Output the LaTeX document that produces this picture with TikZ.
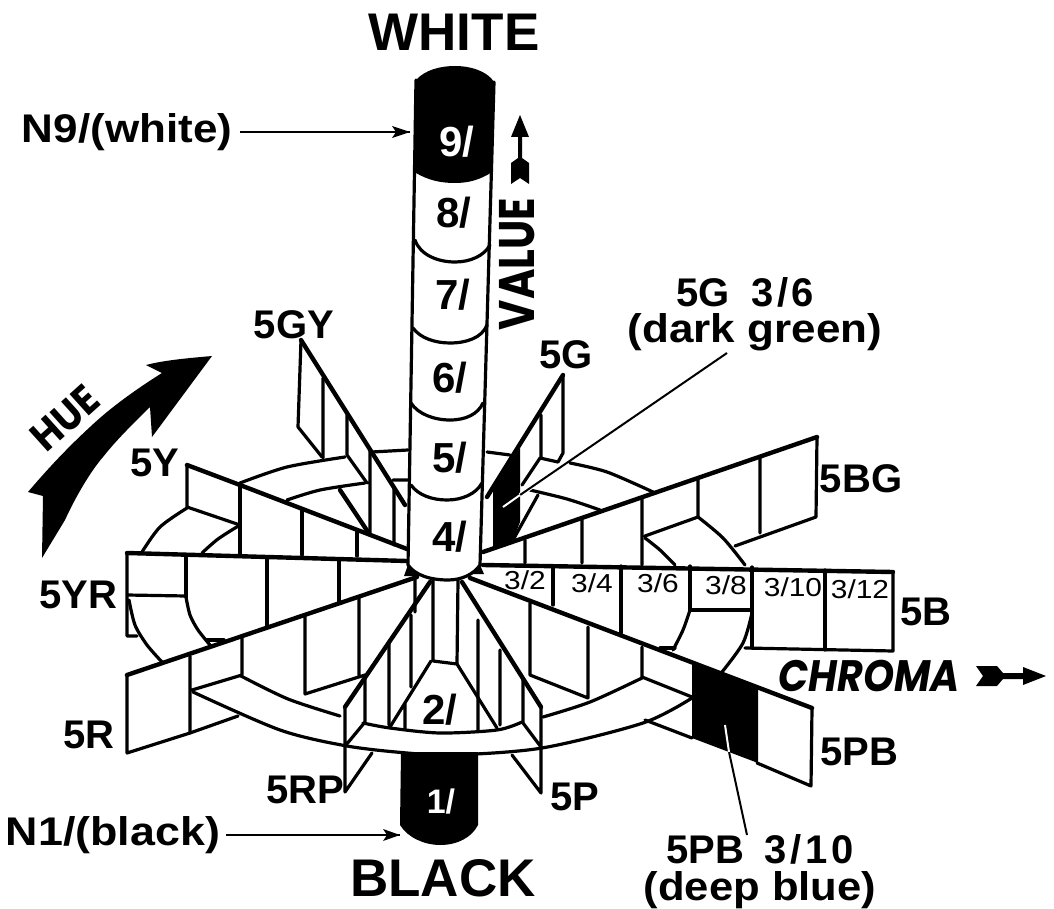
\documentclass[tikz,border=0pt]{standalone}
\usepackage{fontspec}
\setmainfont{Liberation Sans}
\newfontfamily\geo{Poppins}
\newcommand{\fs}[1]{\fontsize{#1}{#1}\selectfont}
\tikzset{
  ln/.style={line width=3.2pt,line cap=round,line join=round},
  hv/.style={line width=4.4pt,line cap=round,line join=round},
  leader/.style={line width=2pt},
  big/.style={font=\fs{53}\bfseries,inner sep=0pt},
  lab/.style={font=\fs{40}\bfseries,inner sep=0pt},
  cyl/.style={font=\fs{42}\bfseries,inner sep=0pt},
  cell/.style={font=\fs{26},inner sep=0pt,xscale=1.15},
}
\begin{document}
\begin{tikzpicture}[x=1pt,y=-1pt]
\useasboundingbox (0,0) rectangle (1054,909);
\fill[white] (0,0) rectangle (1054,909);
% ---- black chips behind lines
\fill (520,448) -- (493,490) -- (493,547) -- (513,540) -- (520,522) -- cycle;
\fill (692,662) -- (758,689) -- (758,763) -- (692,738) -- cycle;
% black column foot
\fill (401,752) -- (400,825) .. controls (408,838) and (425,845) .. (440,845) .. controls (458,845) and (472,837) .. (478,825) -- (478,752) -- cycle;
% ---- 5Y
\draw[hv] (187,465) -- (240,485) -- (407,549);
\draw[ln] (187,465) -- (187,507) -- (240,525);
\draw[ln] (240,484) -- (240,554) (302,510) -- (302,555) (357,532) -- (357,556);
% ---- 5YR
\draw[hv] (127,553) -- (407,561);
\draw[ln] (127,553) -- (127,636) -- (137,636) (127,595) -- (186,596);
\draw[ln] (186,555) -- (186,597) (267,557) -- (267,627) (339,560) -- (339,602) (207,640) -- (224,640);
% ---- 5R
\draw[hv] (127,675) -- (417,577);
\draw[ln] (127,675) -- (127,753) -- (190,733) -- (238,716);
\draw[ln] (190,656) -- (190,733) (242,638) -- (242,675) -- (192,690) (305,617) -- (305,694) -- (365,675) (359,598) -- (359,675) (415,578) -- (415,612);
% ---- ring, visible arcs
\draw[ln] plot[smooth] coordinates {(142,552) (160,527) (187,508)};
\draw[ln] plot[smooth] coordinates {(202,553) (218,539) (240,525)};
\draw[ln] plot[smooth] coordinates {(129,600) (135,625) (147,645) (162,662)};
\draw[ln] plot[smooth] coordinates {(186,597) (190,615) (198,630) (210,645)};
\draw[ln] plot[smooth] coordinates {(240,483) (287,467) (345,457)};
\draw[ln] plot[smooth] coordinates {(287,500) (320,490) (365,483)};
\draw[ln] (372,452) -- (408,450) (393,480) -- (410,480);
\draw[ln] (487,452) -- (510,455);
\draw[ln] plot[smooth] coordinates {(570,463) (607,472) (653,492)};
\draw[ln] plot[smooth] coordinates {(530,490) (567,499) (600,510)};
\draw[ln] plot[smooth] coordinates {(698,517) (723,538) (745,565)};
\draw[ln] plot[smooth] coordinates {(645,538) (660,550) (675,565)};
\draw[ln] plot[smooth] coordinates {(690,610) (683,630) (673,650)};
\draw[ln] plot[smooth] coordinates {(752,613) (743,643) (722,672)};
\draw[ln] plot[smooth] coordinates {(193,692) (280,730) (347,746) (407,753) (453,755) (542,748) (643,723) (692,698)};
\draw[ln] plot[smooth] coordinates {(241,676) (288,699) (340,716)};
\draw[ln] plot[smooth] coordinates {(363,723) (390,728) (440,733) (497,730) (522,722)};
\draw[ln] plot[smooth] coordinates {(543,717) (590,702) (642,678)};
% ---- 5GY
\draw[hv] (301,340) -- (405,505);
\draw[ln] (301,340) -- (298,427) -- (322,457);
\draw[ln] (323,378) -- (323,458) (347,415) -- (347,455) -- (367,483) (370,450) -- (370,533) (394,487) -- (394,545);
\draw[hv] (340,490) -- (368,532);
% ---- 5G
\draw[hv] (563,375) -- (487,497);
\draw[ln] (563,375) -- (563,453) -- (558,462) -- (540,458) -- (522,485) (541,415) -- (541,458) (538,495) -- (513,540);
% ---- 5BG
\draw[hv] (483,552) -- (817,437);
\draw[ln] (817,437) -- (816,517) -- (735,546);
\draw[ln] (760,458) -- (760,533) (698,480) -- (698,517) -- (645,536) (642,497) -- (642,565) (582,519) -- (582,563) (525,540) -- (525,563);
% ---- 5B
\draw[hv] (483,565) -- (893,572);
\draw[ln] (893,572) -- (893,651) -- (745,648);
\draw[ln] (553,566) -- (553,605) (621,566) -- (621,633) (690,566) -- (690,610) -- (752,610) (752,567) -- (752,648) (825,570) -- (825,650) (660,648) -- (675,648);
% ---- 5PB
\draw[hv] (470,578) -- (812,708);
\draw[ln] (812,708) -- (811,786) -- (757,763) (692,738) -- (645,720);
\draw[ln] (530,603) -- (530,675) -- (588,698) (588,627) -- (588,698) (642,647) -- (642,677) -- (692,697);
% ---- 5P
\draw[hv] (462,582) -- (541,707);
\draw[ln] (541,707) -- (541,793) -- (512,755) (523,680) -- (523,723) -- (541,747) (500,650) -- (500,725) (478,620) -- (478,730);
% ---- 5RP
\draw[hv] (430,582) -- (345,707);
\draw[ln] (345,707) -- (345,792) -- (372,753) (365,677) -- (365,722) -- (346,745) (389,643) -- (389,725) (411,615) -- (411,687);
% ---- centre column of the chart and the 2/ chip
\draw[ln] (433,580) -- (433,661) -- (457,664) -- (458,580);
\draw[ln] (431,661) -- (390,727) (457,664) -- (497,728) (405,703) -- (405,729);
% ---- column
\fill[white] (416,85) -- (408,565) .. controls (415,575) and (430,580) .. (448,580) .. controls (462,580) and (474,574) .. (480,565) -- (494,85) -- cycle;
\draw[ln] (416,80) -- (408,565) .. controls (415,575) and (430,580) .. (448,580) .. controls (462,580) and (474,574) .. (480,565) -- (494,82);
\fill (416,173) -- (416,80) .. controls (425,70) and (440,66) .. (455,66) .. controls (472,66) and (488,72) .. (494,82) -- (492,172) .. controls (480,180) and (468,183) .. (455,183) .. controls (440,183) and (428,180) .. (416,173) -- cycle;
\draw[ln] (415,240) .. controls (420,255) and (438,262) .. (455,262) .. controls (470,262) and (484,256) .. (490,245);
\draw[ln] (413,328) .. controls (420,338) and (435,343) .. (450,343) .. controls (466,343) and (482,338) .. (487,325);
\draw[ln] (411,403) .. controls (418,414) and (434,420) .. (450,420) .. controls (466,420) and (478,414) .. (483,403);
\draw[ln] (411,485) .. controls (418,495) and (432,500) .. (447,500) .. controls (462,500) and (476,494) .. (482,483);
% small black wedges at the foot of the column
\fill (408,565) -- (404,576) -- (420,576) -- cycle;
\fill (480,565) -- (484,574) -- (472,574) -- cycle;
% ---- leaders
\coordinate (n9a) at (240,132); \coordinate (n9b) at (410,132);
\draw[leader] (n9a) -- (n9b);
\fill (n9b) -- (392,126) -- (396,132) -- (392,138) -- cycle;
\coordinate (n1a) at (226,835); \coordinate (n1b) at (400,835);
\draw[leader] (n1a) -- (n1b);
\fill (n1b) -- (383,829) -- (387,835) -- (383,841) -- cycle;
\coordinate (g1) at (727,353); \coordinate (g2) at (520,495); \coordinate (g3) at (503,507);
\draw[white,line width=4pt] (545,478) -- (520,495);
\draw[leader] (g1) -- (g2);
\draw[white,leader] (g2) -- (g3);
\coordinate (b1) at (747,835); \coordinate (b2) at (729,752); \coordinate (b3) at (725,725);
\draw[leader] (b1) -- (b2);
\draw[white,leader] (b2) -- (b3);
% ---- fletched arrows
\fill (520,115) -- (529,137) -- (522,137) -- (522,158) -- (529,163) -- (529,184) -- (520,178) -- (511,184) -- (511,163) -- (518,158) -- (518,137) -- (511,137) -- cycle;
\fill (1046,676) -- (1023,667) -- (1023,673) -- (1003,673) -- (997,666) -- (976,666) -- (983,676) -- (976,686) -- (997,686) -- (1003,679) -- (1023,679) -- (1023,685) -- cycle;
% ---- HUE arrow
\fill (212,356) .. controls (190,358) and (165,360) .. (146,365) -- (162,373) .. controls (135,390) and (110,408) .. (90,427) .. controls (65,450) and (45,472) .. (28,492) -- (43,496) -- (42,558) -- (65,520) .. controls (75,498) and (90,472) .. (103,457) .. controls (118,438) and (135,422) .. (150,407) -- (152,437) -- cycle;
% ---- texts
\node[big] (wh) at (454,32) {WHITE};
\node[big] (bl) at (443,878) {BLACK};
\node[cyl,white] (v9) at (457,142) {9/};
\node[cyl] (v8) at (454,213) {8/};
\node[cyl] (v7) at (453,295) {7/};
\node[cyl] (v6) at (450,378) {6/};
\node[cyl] (v5) at (450,458) {5/};
\node[cyl] (v4) at (450,537) {4/};
\node[cyl] (v2) at (440,710) {2/};
\node[font=\fs{34}\bfseries,inner sep=0pt,white] (v1) at (441,802) {1/};
\node[lab,xscale=1.1] (n9) at (127,132) {N9/(white)};
\node[lab,xscale=1.12] (n1) at (113,835) {N1/(black)};
\node[lab] (l5gy) at (294,325) {5GY};
\node[lab] (l5g) at (566,355) {5G};
\node[lab] (l5y) at (155,463) {5Y};
\node[lab] (l5bg) at (861,479) {5BG};
\node[lab] (l5yr) at (78,595) {5YR};
\node[lab] (l5b) at (926,612) {5B};
\node[lab] (l5r) at (89,735) {5R};
\node[lab] (l5rp) at (305,790) {5RP};
\node[lab] (l5p) at (575,797) {5P};
\node[lab] (l5pb) at (859,752) {5PB};
\node[lab] (g36) at (745,292) {5G\hspace{22pt}3\hspace{3pt}/\hspace{3pt}6};
\node[lab,xscale=1.1] (dg) at (755,332) {(dark\ green)};
\node[lab] (pb) at (760,849) {5PB\hspace{20pt}3\hspace{4pt}/\hspace{4pt}1\hspace{3pt}0};
\node[lab,xscale=1.09] (db) at (760,890) {(deep\ blue)};
\node[cell] (c2) at (525,580) {3/2};
\node[cell] (c4) at (592,583) {3/4};
\node[cell] (c6) at (658,583) {3/6};
\node[cell] (c8) at (726,585) {3/8};
\node[cell] (c10) at (793,587) {3/10};
\node[cell] (c12) at (860,589) {3/12};
\node[font=\geo\itshape\bfseries\fs{44},inner sep=0pt,xscale=.9] (chroma) at (869,676) {CHROMA};
\node[font=\geo\bfseries\fs{50},inner sep=0pt,rotate=90,xscale=.83] (value) at (517,264) {VALUE};
\node[font=\geo\bfseries\fs{41},inner sep=0pt,rotate=42,xscale=.92] (hue) at (65,418) {HUE};
\end{tikzpicture}
\end{document}
